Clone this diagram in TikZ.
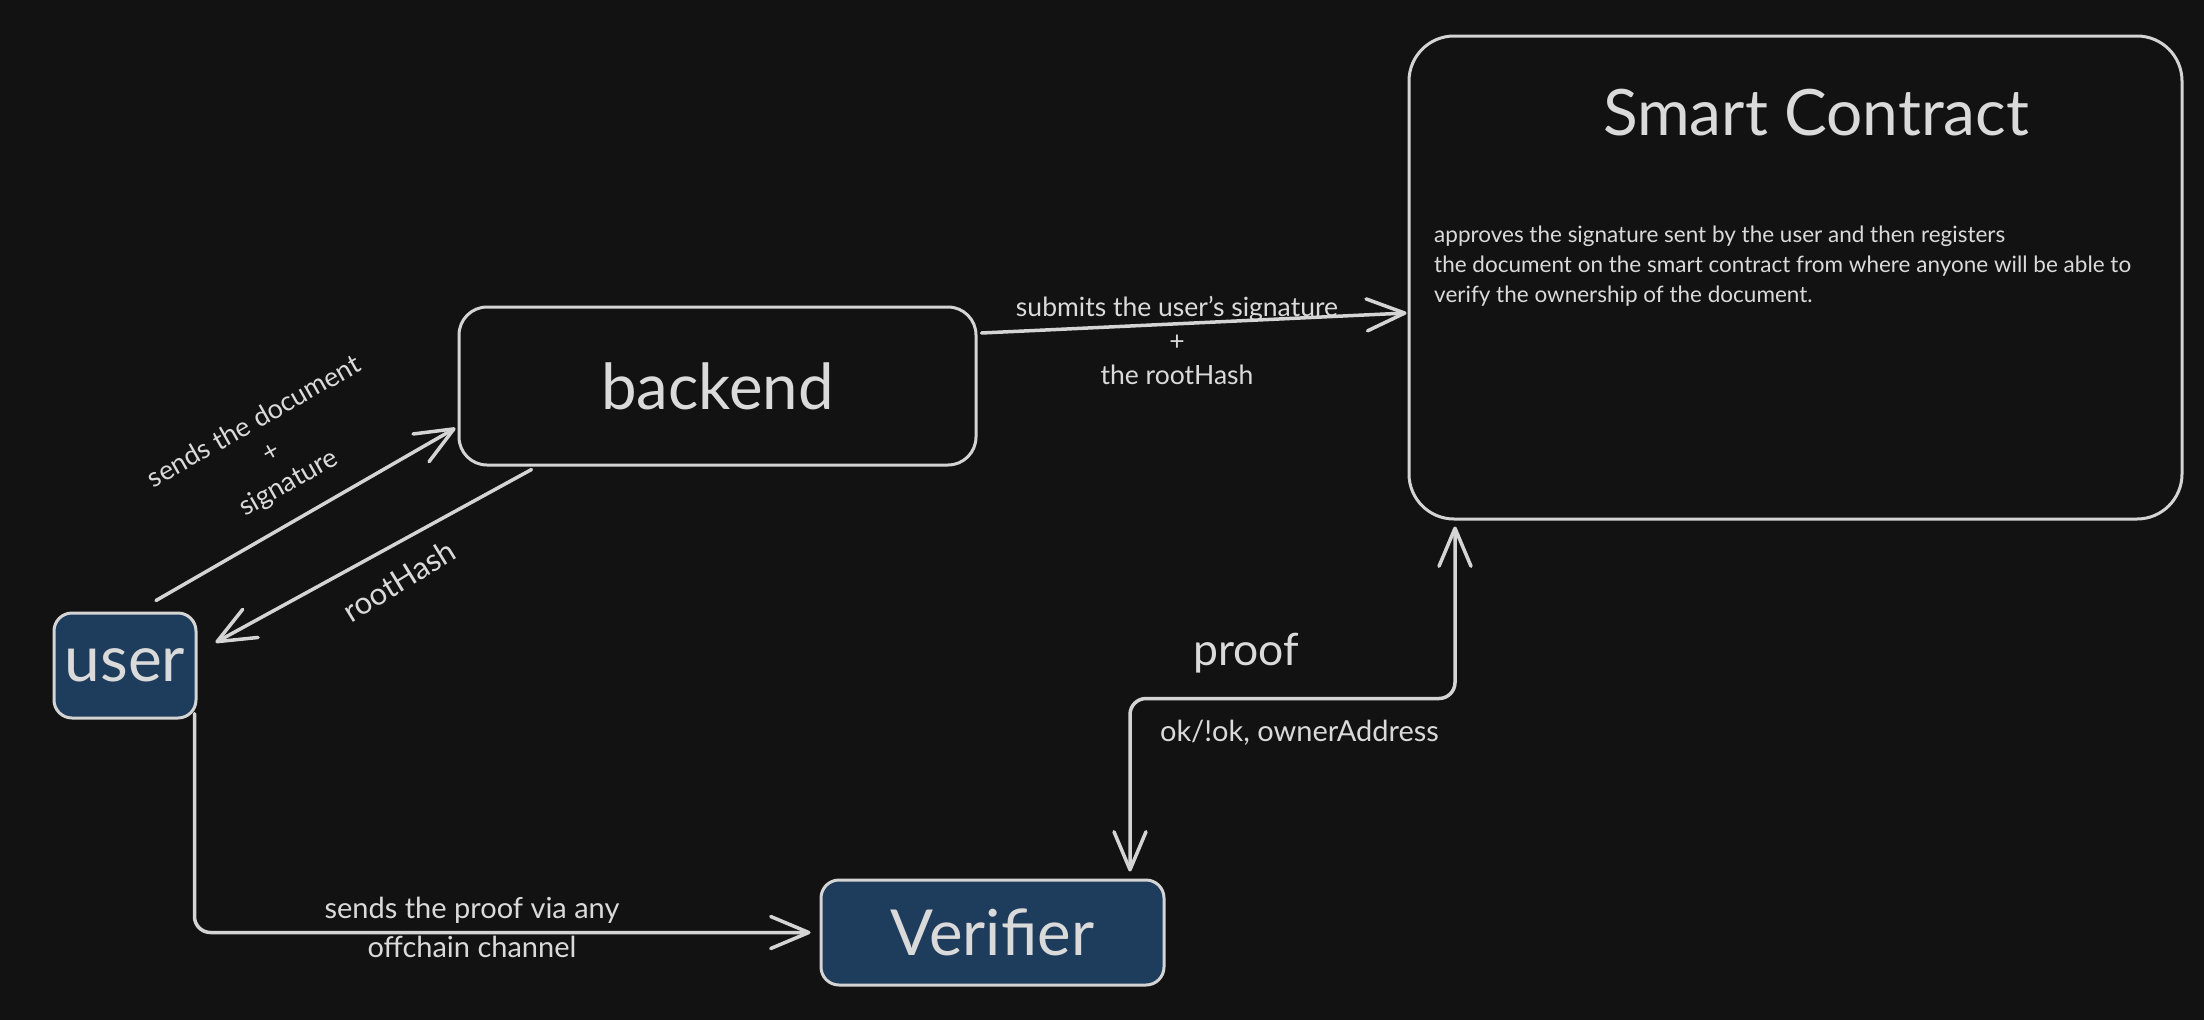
\documentclass[tikz,border=0pt]{standalone}
\usepackage{fontspec}
\setmainfont{Lato}
\usetikzlibrary{arrows.meta,calc}
\definecolor{bg}{HTML}{121212}
\definecolor{ink}{HTML}{D4D4D4}
\definecolor{txt}{HTML}{DADADA}
\definecolor{ufill}{HTML}{1E3D5C}
\begin{document}
\begin{tikzpicture}[x=1pt,y=-1pt,
  box/.style={draw=ink, line width=3pt, rectangle, inner sep=0pt, text=txt, font=\fontsize{63.5}{70}\selectfont},
  conn/.style={draw=ink, line width=3.5pt, line cap=round, line join=round, -{Straight Barb[length=38pt,width=32pt,round]}},
  lbl/.style={text=txt, inner sep=0pt, align=center},
]
\fill[bg] (0,0) rectangle (2204,1020);
\useasboundingbox (0,0) rectangle (2204,1020);

% boxes
\node[box, minimum width=517pt, minimum height=158pt, rounded corners=28pt] (backend) at (717.5,386) {backend};
\node[box, minimum width=773pt, minimum height=483pt, rounded corners=45pt] (sc) at (1795.5,277.5) {};
\node[box, fill=ufill, minimum width=142pt, minimum height=105pt, rounded corners=18pt, font=\fontsize{64}{70}\selectfont] (user) at (125,665.5) {\raisebox{-6pt}{user}};
\node[box, fill=ufill, minimum width=343pt, minimum height=105pt, rounded corners=18pt] (verifier) at (992.5,932.5) {\raisebox{-3pt}{Verifier}};

% texts inside smart contract
\node[lbl, anchor=base, font=\fontsize{64}{70}\selectfont] (sctitle) at (1816,135) {Smart Contract};
\node[lbl, align=left, anchor=north west, font=\fontsize{22.5}{30}\selectfont] (scdesc) at (1434,226) {approves the signature sent by the user and then registers\\the document on the smart contract from where anyone will be able to\\verify the ownership of the document.};

% connectors
\draw[conn] ([shift={(31,-11)}]user.north) -- ([shift={(-2,42)}]backend.west);
\draw[conn] ([shift={(-186,3)}]backend.south) -- ([shift={(18,-23)}]user.east);
\draw[conn] ([shift={(4,-53)}]backend.east) -- ([shift={(-1,35.5)}]sc.west);
\draw[conn, rounded corners=16pt] ([shift={(-3,-6)}]user.south east) |- ([shift={(-9,0)}]verifier.west);
\draw[conn, {Straight Barb[length=38pt,width=32pt,round]}-{Straight Barb[length=38pt,width=32pt,round]}, rounded corners=16pt]
  ([shift={(137.5,-7)}]verifier.north) -- ++(0,-173) -| ([shift={(-340.5,6)}]sc.south);

% labels
\node[lbl, rotate=29.5, font=\fontsize{27}{35}\selectfont] (lsend) at (272,453) {sends the document\\+\\signature};
\node[lbl, rotate=31.5, font=\fontsize{31}{35}\selectfont] (lroot) at (399,581) {rootHash};
\node[lbl, font=\fontsize{26.5}{34}\selectfont] (lsubmit) at (1177,340) {submits the user's signature\\+\\the rootHash};
\node[lbl, anchor=north, font=\fontsize{29}{39}\selectfont] (lproofvia) at (472,897) {sends the proof via any\\offchain channel};
\node[lbl, anchor=base, font=\fontsize{44.5}{50}\selectfont] (lproof) at (1246,665) {proof};
\node[lbl, anchor=base, font=\fontsize{29}{34}\selectfont] (lok) at (1299.5,741) {ok/!ok, ownerAddress};
\end{tikzpicture}
\end{document}
